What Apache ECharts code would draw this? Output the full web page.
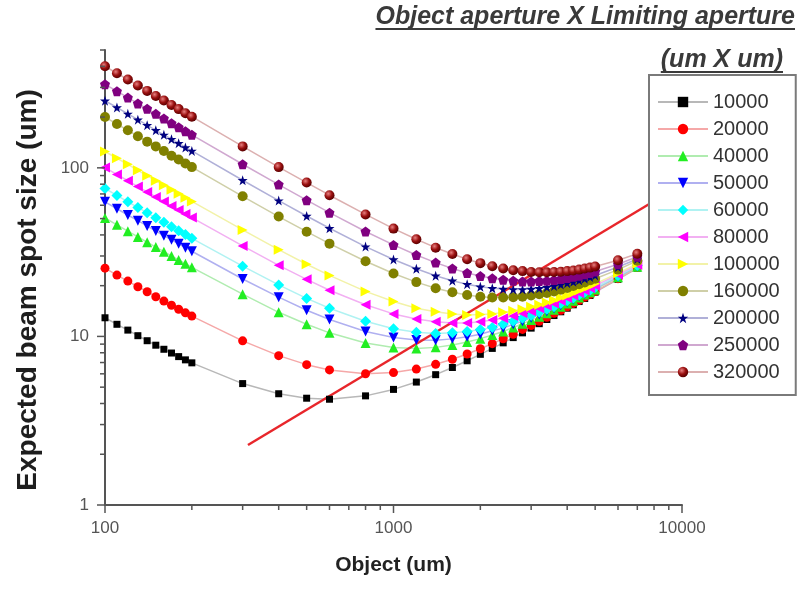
<!DOCTYPE html>
<html><head><meta charset="utf-8">
<script src="https://cdn.jsdelivr.net/npm/echarts@6/dist/echarts.min.js"></script>
<style>html,body{margin:0;padding:0;background:#fff}#c{width:800px;height:590px}</style>
</head><body><div id="c"></div>
<script>
// ---- data ----
const objectUm = [100,110,120,130,140,150,160,170,180,190,200,300,400,500,600,800,1000,1200,1400,1600,1800,2000,2200,2400,2600,2800,3000,3200,3400,3600,3800,4000,4200,4400,4600,4800,5000,6000,7000];
const s10000  = [12.9,11.8,10.9,10.1,9.43,8.87,8.39,7.97,7.59,7.26,6.97,5.25,4.57,4.30,4.24,4.44,4.85,5.36,5.93,6.54,7.17,7.83,8.49,9.16,9.84,10.5,11.2,11.9,12.6,13.3,14.0,14.7,15.4,16.1,16.8,17.5,18.3,21.8,25.4];
const s20000  = [25.4,23.1,21.3,19.7,18.4,17.2,16.2,15.3,14.5,13.8,13.2,9.41,7.69,6.80,6.33,6.01,6.10,6.40,6.83,7.32,7.87,8.45,9.06,9.68,10.3,11.0,11.6,12.3,13.0,13.7,14.3,15.0,15.7,16.4,17.1,17.8,18.5,22.0,25.6];
const s40000  = [50.4,45.9,42.1,38.9,36.2,33.9,31.8,30.0,28.4,27.0,25.7,17.8,13.9,11.8,10.5,9.13,8.60,8.49,8.61,8.89,9.26,9.70,10.2,10.7,11.3,11.9,12.5,13.1,13.7,14.4,15.0,15.7,16.3,17.0,17.7,18.3,19.0,22.4,25.9];
const s50000  = [62.9,57.2,52.5,48.6,45.2,42.2,39.6,37.4,35.4,33.6,32.0,21.9,17.1,14.3,12.6,10.7,9.85,9.53,9.50,9.67,9.95,10.3,10.8,11.2,11.8,12.3,12.9,13.5,14.1,14.7,15.3,16.0,16.6,17.3,17.9,18.6,19.3,22.6,26.1];
const s60000  = [75.4,68.6,62.9,58.2,54.1,50.5,47.5,44.7,42.3,40.2,38.2,26.1,20.2,16.8,14.7,12.3,11.1,10.6,10.4,10.5,10.7,11.0,11.3,11.8,12.3,12.8,13.3,13.9,14.5,15.0,15.7,16.3,16.9,17.6,18.2,18.8,19.5,22.9,26.3];
const s80000  = [100.4,91.3,83.8,77.4,71.9,67.2,63.1,59.4,56.2,53.3,50.7,34.4,26.4,21.8,18.8,15.4,13.6,12.7,12.2,12.0,12.0,12.2,12.5,12.8,13.2,13.7,14.1,14.7,15.2,15.7,16.3,16.9,17.5,18.1,18.7,19.4,20.0,23.3,26.6];
const s100000 = [125,114,105,96.6,89.8,83.9,78.7,74.1,70.1,66.5,63.2,42.8,32.7,26.8,23.0,18.5,16.1,14.7,14.0,13.6,13.4,13.5,13.6,13.9,14.2,14.5,15.0,15.4,15.9,16.4,17.0,17.5,18.1,18.7,19.3,19.9,20.5,23.7,27.0];
const s160000 = [200,182,167,154,143,134,126,118,112,106,101,67.8,51.4,41.8,35.5,27.9,23.6,21.0,19.3,18.3,17.6,17.2,17.0,17.0,17.1,17.2,17.5,17.8,18.1,18.5,18.9,19.4,19.9,20.4,20.9,21.5,22.0,24.9,28.1];
const s200000 = [250,228,209,193,179,167,157,148,140,132,126,84.4,63.9,51.8,43.8,34.1,28.6,25.2,22.9,21.4,20.4,19.7,19.3,19.1,19.0,19.0,19.1,19.3,19.6,19.9,20.3,20.7,21.1,21.5,22.0,22.5,23.0,25.8,28.8];
const s250000 = [313,285,261,241,224,209,196,184,174,165,157,105,79.6,64.3,54.2,41.9,34.9,30.4,27.4,25.3,23.8,22.8,22.1,21.7,21.4,21.2,21.2,21.3,21.4,21.6,21.9,22.2,22.6,22.9,23.4,23.8,24.3,26.8,29.7];
const s320000 = [400,364,334,308,286,267,251,236,223,211,201,134,101,81.8,68.8,52.9,43.6,37.7,33.6,30.8,28.7,27.2,26.1,25.3,24.7,24.4,24.1,24.0,24.0,24.1,24.2,24.4,24.6,24.9,25.3,25.6,26.0,28.3,30.9];
const seriesNames = ['10000','20000','40000','50000','60000','80000','100000','160000','200000','250000','320000'];
const fitLineX = [313, 7700];
const fitLineY = [2.27, 61];
const xTickValues = [100,200,300,400,500,600,700,800,900,1000,2000,3000,4000,5000,6000,7000,8000,9000,10000];
const yTickValues = [1,2,3,4,5,6,7,8,9,10,20,30,40,50,60,70,80,90,100,200,300,400,500];
const xMin = 100, xMax = 10000, yMin = 1, yMax = 500;
const titleLine1 = 'Object aperture X Limiting aperture';
const titleLine2 = '(um X um)';
const yName = 'Expected beam spot size (um)';
const xName = 'Object (um)';

// ---- styles ----
const FF = '"Liberation Sans", Arial, sans-serif';
const STAR = 'path://M50,0 L61.8,35.5 L99,35.5 L69,57.5 L80.5,93 L50,71 L19.5,93 L31,57.5 L1,35.5 L38.2,35.5 Z';
const PENT = 'path://M50,0 L98,35 L79.5,92 L20.5,92 L2,35 Z';
const sphere = {type:'radial', x:0.38, y:0.35, r:0.65, colorStops:[{offset:0,color:'#e88080'},{offset:0.55,color:'#9a1010'},{offset:1,color:'#5a0000'}]};
const styles = [
  {symbol:'rect', size:7, rot:0, color:'#000000', line:'#b8b8b8'},
  {symbol:'circle', size:9, rot:0, color:'#ff0000', line:'#f5a8a8'},
  {symbol:'triangle', size:10, rot:0, color:'#22ee22', line:'#b0ecb0'},
  {symbol:'triangle', size:10, rot:180, color:'#0000ff', line:'#b0b0f0'},
  {symbol:'diamond', size:11, rot:0, color:'#00ffff', line:'#b0f2f2'},
  {symbol:'triangle', size:10, rot:90, color:'#ff00ff', line:'#f2b0f2'},
  {symbol:'triangle', size:10, rot:-90, color:'#ffff00', line:'#f2f2a8'},
  {symbol:'circle', size:10, rot:0, color:'#808000', line:'#cfcfa8'},
  {symbol:STAR, size:10, rot:0, color:'#000080', line:'#b0b0d8'},
  {symbol:PENT, size:10, rot:0, color:'#800080', line:'#d0a8d0'},
  {symbol:'circle', size:10, rot:0, color:sphere, line:'#dcb0b0'}
];
const allY = [s10000,s20000,s40000,s50000,s60000,s80000,s100000,s160000,s200000,s250000,s320000];

const series = seriesNames.map((name, i) => ({
  name, type:'line', clip:false,
  data: objectUm.map((x, j) => [x, allY[i][j]]),
  symbol: styles[i].symbol, symbolSize: styles[i].size, symbolRotate: styles[i].rot,
  itemStyle: {color: styles[i].color},
  lineStyle: {color: styles[i].line, width: 1.5},
  emphasis: {disabled: true}
}));

series.push({
  name:'fit', type:'line', data: fitLineX.map((x, j) => [x, fitLineY[j]]),
  symbol:'none', lineStyle:{color:'#e8262b', width:2.5}, z:3, clip:false
});

const isPow10 = v => Math.abs(Math.log10(v) - Math.round(Math.log10(v))) < 1e-6;
const tickStyle = {stroke:'#555', lineWidth:1.5};
series.push({
  type:'custom', silent:true, clip:false, z:4,
  data: xTickValues.map(v => [v, yMin]),
  renderItem: (params, api) => {
    const p = api.coord([api.value(0), yMin]);
    const len = isPow10(api.value(0)) ? 8 : 5;
    return {type:'line', shape:{x1:p[0], y1:p[1], x2:p[0], y2:p[1] + len}, style:tickStyle};
  }
});
series.push({
  type:'custom', silent:true, clip:false, z:4,
  data: yTickValues.map(v => [xMin, v]),
  renderItem: (params, api) => {
    const p = api.coord([xMin, api.value(1)]);
    const len = isPow10(api.value(1)) ? 8 : 5;
    return {type:'line', shape:{x1:p[0] - len, y1:p[1], x2:p[0], y2:p[1]}, style:tickStyle};
  }
});

// text measurement for underlines
const ctx = document.createElement('canvas').getContext('2d');
const titleFont = 'italic bold 25px ' + FF;
ctx.font = titleFont;
const w1 = ctx.measureText(titleLine1).width;
const w2 = ctx.measureText(titleLine2).width;
const titleRight1 = 795, titleRight2 = 783;

const chart = echarts.init(document.getElementById('c'), null, {renderer:'canvas'});
chart.setOption({
  backgroundColor:'#fff',
  animation:false,
  grid:{left:105, right:118, top:50, bottom:85, containLabel:false},
  xAxis:{
    type:'log', logBase:10, min:xMin, max:xMax,
    name:xName, nameLocation:'middle', nameGap:50,
    nameTextStyle:{fontFamily:FF, fontWeight:'bold', fontSize:21, color:'#222'},
    axisLine:{lineStyle:{color:'#555', width:2}},
    axisTick:{show:false}, minorTick:{show:false}, splitLine:{show:false},
    axisLabel:{fontFamily:FF, fontSize:17, color:'#555', margin:15,
      formatter: v => isPow10(v) ? String(Math.round(v)) : ''}
  },
  yAxis:{
    type:'log', logBase:10, min:yMin, max:yMax,
    axisLine:{show:true, lineStyle:{color:'#555', width:2}},
    axisTick:{show:false}, minorTick:{show:false}, splitLine:{show:false},
    axisLabel:{fontFamily:FF, fontSize:17, color:'#555', margin:16, showMaxLabel:false,
      formatter: v => isPow10(v) ? String(Math.round(v)) : ''}
  },
  legend:{
    data: seriesNames, orient:'vertical', left:649, top:75,
    backgroundColor:'#fff', borderColor:'#7a7a7a', borderWidth:2,
    padding:[17, 16, 13, 8], itemWidth:50, itemHeight:13, itemGap:7,
    textStyle:{fontFamily:FF, fontSize:20, color:'#333'},
    selectedMode:false
  },
  graphic:[
    {type:'text', style:{text:titleLine1, x:titleRight1, y:17, font:titleFont, fill:'#3a3a3a', align:'right', verticalAlign:'middle'}},
    {type:'rect', shape:{x:titleRight1 - w1, y:28, width:w1, height:2}, style:{fill:'#3a3a3a'}},
    {type:'text', style:{text:titleLine2, x:titleRight2, y:60, font:titleFont, fill:'#3a3a3a', align:'right', verticalAlign:'middle'}},
    {type:'rect', shape:{x:titleRight2 - w2, y:71, width:w2, height:2}, style:{fill:'#3a3a3a'}},
    {type:'text', x:28, y:290, rotation:Math.PI/2, style:{text:yName, x:0, y:0, font:'bold 28px ' + FF, fill:'#1e1e1e', align:'center', verticalAlign:'middle'}}
  ],
  series
});
</script></body></html>
